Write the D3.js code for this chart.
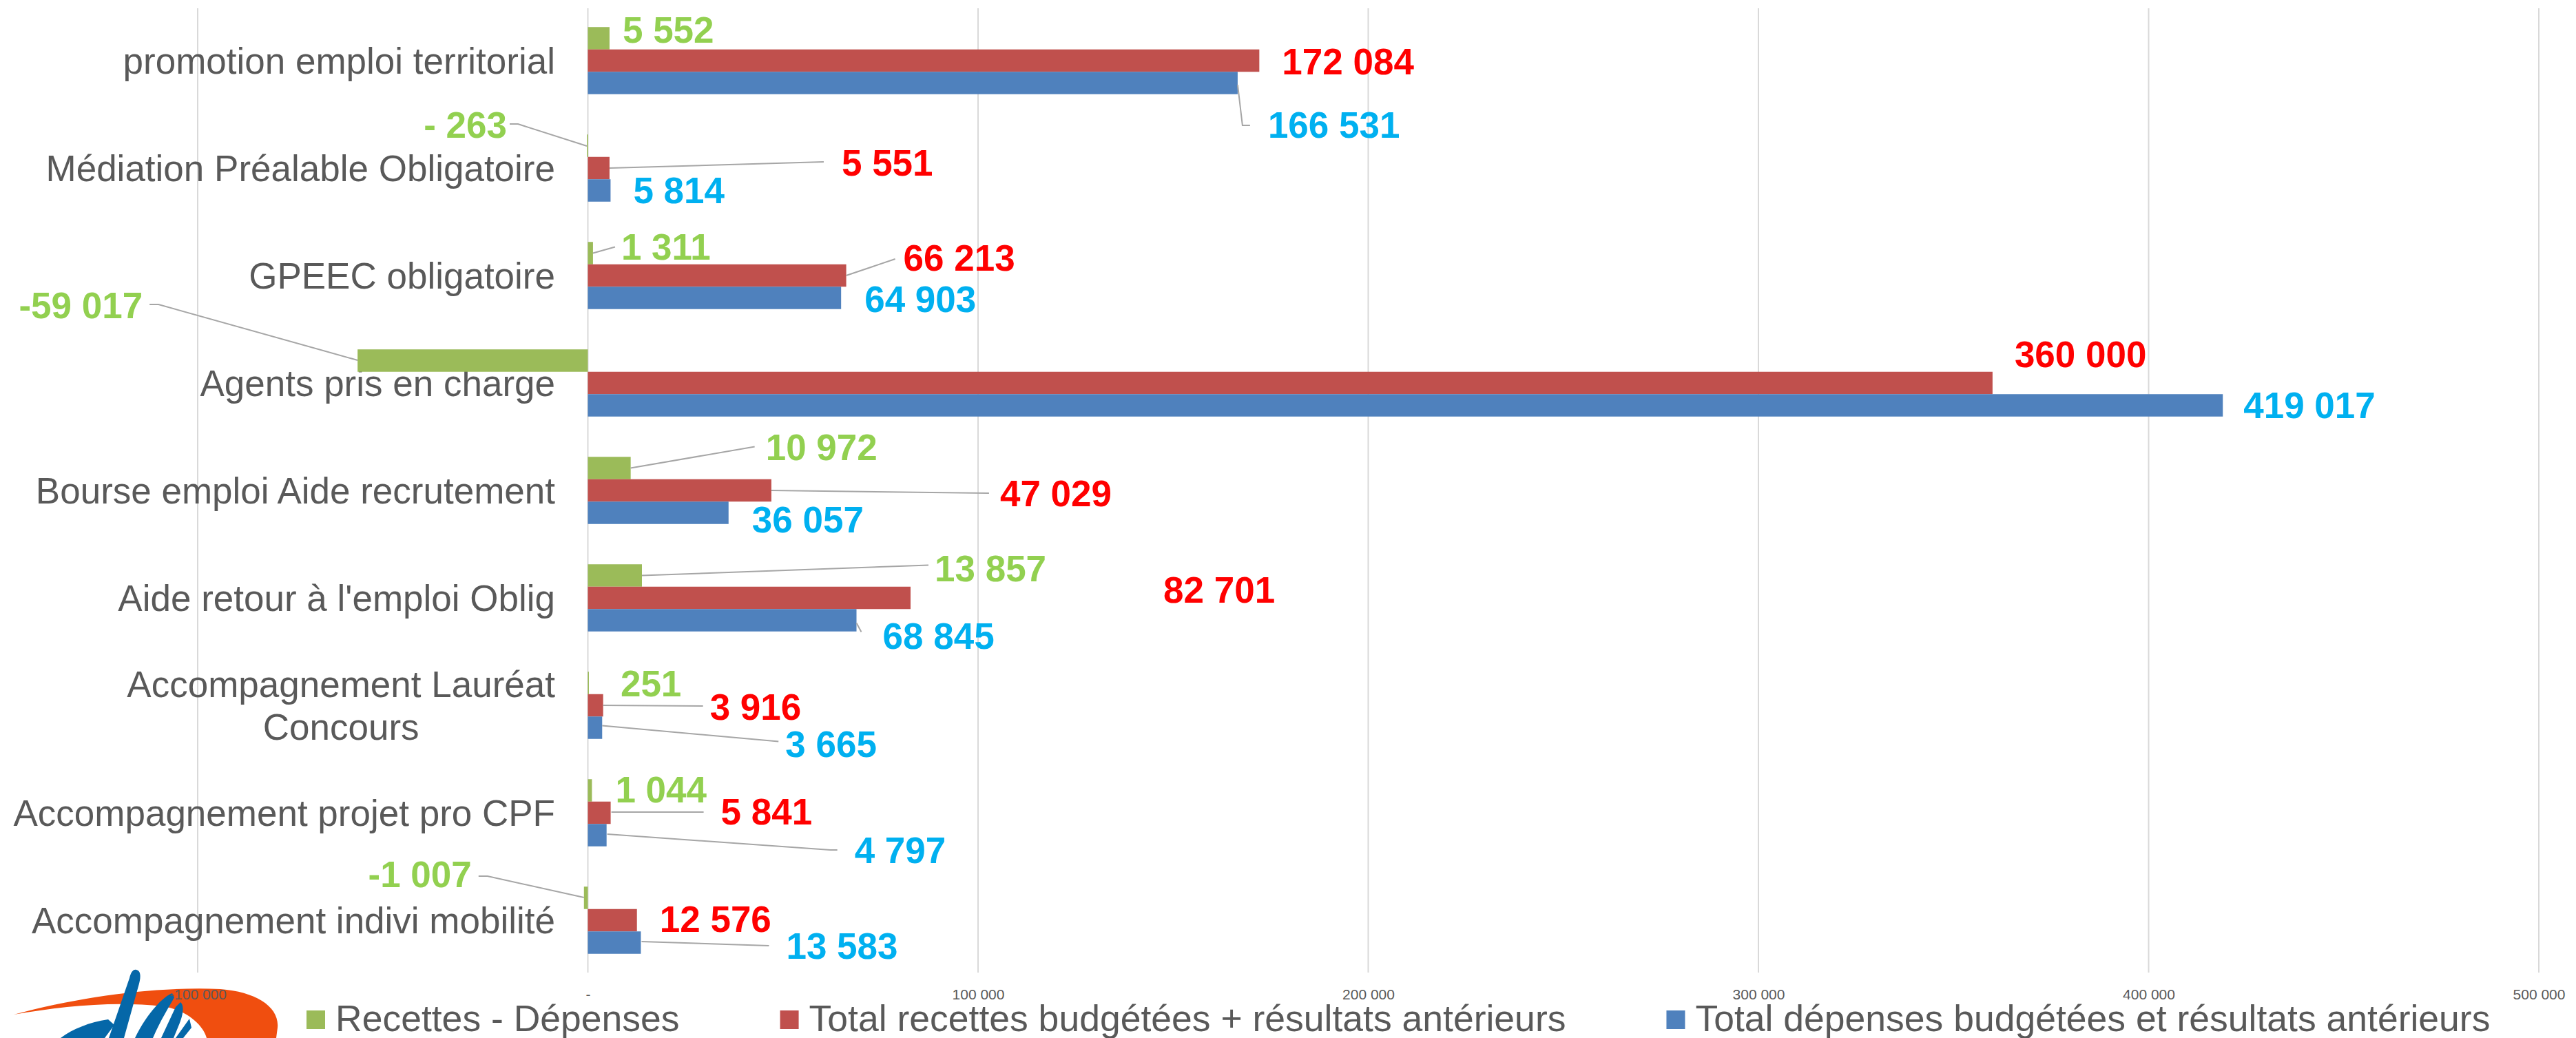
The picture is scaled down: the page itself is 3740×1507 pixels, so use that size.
<!DOCTYPE html>
<html>
<head>
<meta charset="utf-8">
<script src="https://cdn.jsdelivr.net/npm/d3@7"></script>
<style>
  body { margin: 0; background: #fff; }
  svg { display: block; font-family: "Liberation Sans", Arial, sans-serif; }
</style>
</head>
<body>
<svg id="chart"></svg>
<script>
const width = 3740,
    height = 1507;

const categories = [
    "promotion emploi territorial",
    "Médiation Préalable Obligatoire",
    "GPEEC obligatoire",
    "Agents pris en charge",
    "Bourse emploi Aide recrutement",
    "Aide retour à l'emploi Oblig",
    "Accompagnement Lauréat\nConcours",
    "Accompagnement projet pro CPF",
    "Accompagnement indivi mobilité"
];

const seriesNames = [
    "Recettes - Dépenses",
    "Total recettes budgétées + résultats antérieurs",
    "Total dépenses budgétées et résultats antérieurs"
];

const recettesMoinsDepenses = [5552, -263, 1311, -59017, 10972, 13857, 251, 1044, -1007];
const totalRecettes = [172084, 5551, 66213, 360000, 47029, 82701, 3916, 5841, 12576];
const totalDepenses = [166531, 5814, 64903, 419017, 36057, 68845, 3665, 4797, 13583];

const tickValues = [-100000, 0, 100000, 200000, 300000, 400000, 500000];
const tickLabels = ["-100 000", "-", "100 000", "200 000", "300 000", "400 000", "500 000"];

const barColors = ["#9BBB59", "#C0504D", "#4F81BD"];
const labelColors = ["#92D050", "#FF0000", "#00B0F0"];

// data labels were moved by hand in the original: offsets from bar end / bar centre
// [dx, dy(baseline), anchor, leader points]
const labelLayout = [
    [
        [19, 6.5],
        [-116, -11.5, "end", [[-112, -31.5], [-100, -31.5], [0, 0.5]]],
        [41, 9.5, "start", [[0, 0], [32, -9]]],
        [-312, -61.5, "end", [[-302, -81.5], [-289, -81.5], [0, -0.5]]],
        [196, -11.5, "start", [[0, 0], [180, -31]]],
        [425, 8.5, "start", [[0, 0], [416, -15]]],
        [46, 19.5],
        [34, 17.5],
        [-163, -15.5, "end", [[-153, -31.5], [-140, -31.5], [0, -0.5]]]
    ],
    [
        [33, 20],
        [337, 11, "start", [[0, 0], [311, -9]]],
        [83, -7, "start", [[0, 0], [71, -24]]],
        [32, -23],
        [332, 23, "start", [[0, 0], [316, 4]]],
        [367, 7],
        [155, 21, "start", [[0, 0], [145, 1]]],
        [160, 17, "start", [[1, -1], [135, -1]]],
        [33, 17]
    ],
    [
        [44, 79.5, "start", [[0, 2.5], [7, 61.5], [18, 61.5]]],
        [33, 18.5],
        [34, 20.5],
        [30, 18.5],
        [34, 28.5],
        [38, 41.5, "start", [[0, 4], [7, 17]]],
        [266, 42.5, "start", [[0, -3], [256, 20]]],
        [360, 40.5, "start", [[1, -1.5], [325, 21.5], [335, 21.5]]],
        [211, 23.5, "start", [[1, -1.5], [186, 4.5]]]
    ]
];

const svg = d3.select("#chart").attr("width", width).attr("height", height);
svg.append("rect").attr("width", width).attr("height", height).attr("fill", "#fff");

// logo (bottom left, partly cut off)
const logo = svg.append("g").attr("class", "logo");
logo.append("path")
    .attr("d", "M20,1473 C120,1446 230,1432 320,1436 C372,1440 406,1462 403,1492 L401,1507 L300,1507 C296,1490 272,1466 236,1461 C165,1453 90,1461 20,1473 Z")
    .attr("fill", "#F04E0F");
[
    "M198,1408 C204,1409 205,1417 202,1428 L180,1507 L158,1507 L188,1420 C190,1412 193,1407 198,1408 Z",
    "M88,1507 C105,1494 130,1484 157,1480 L166,1488 L152,1507 Z",
    "M250,1442 C238,1446 214,1470 196,1507 L222,1507 C233,1481 246,1461 253,1448 Z",
    "M262,1455 C268,1460 266,1474 259,1490 L252,1507 L234,1507 L255,1462 Z",
    "M275,1479 L278,1492 L266,1507 L255,1507 Z"
].forEach(d => logo.append("path").attr("d", d).attr("fill", "#0567A8"));

const plotTop = 10,
    plotBottom = 1414;

const x = d3.scaleLinear().domain([-100000, 500000]).range([287, 3686]);

const y = d3.scaleBand().domain(d3.range(categories.length)).range([plotTop, plotBottom]);

const y1 = d3
    .scaleBand()
    .domain(d3.range(3))
    .range([0, y.bandwidth()])
    .paddingOuter(0.9);

// gridlines
svg.append("g")
    .selectAll("line")
    .data(tickValues)
    .enter()
    .append("line")
    .attr("x1", d => x(d))
    .attr("x2", d => x(d))
    .attr("y1", plotTop + 2)
    .attr("y2", plotBottom - 2)
    .attr("stroke", "#D9D9D9")
    .attr("stroke-width", 2);

// tick labels
const xAxis = d3
    .axisBottom(x)
    .tickValues(tickValues)
    .tickSize(0)
    .tickFormat((d, i) => tickLabels[i]);

const axisG = svg.append("g")
    .attr("transform", "translate(0,1436)")
    .call(xAxis);
axisG.select(".domain").remove();
axisG.selectAll("text")
    .attr("y", 0)
    .attr("dy", "0.71em")
    .attr("fill", "#595959")
    .style("font-size", "21px")
    .style("font-family", "'Liberation Sans', Arial, sans-serif");

// category labels
const catG = svg.append("g");
categories.forEach((c, i) => {
    const lines = c.split("\n");
    const lh = 62;
    const cy = y(i) + y.bandwidth() / 2;
    const t = catG.append("text")
        .attr("fill", "#595959")
        .style("font-size", "53px");
    if (lines.length === 1) {
        t.attr("x", 806).attr("y", cy + 19).attr("text-anchor", "end").text(c);
    } else {
        // centred block, right edge at 806
        const tmp = catG.append("text").style("font-size", "53px").text(lines[0]);
        const w = tmp.node().getComputedTextLength();
        tmp.remove();
        const mid = 806 - w / 2;
        t.attr("text-anchor", "middle");
        lines.forEach((l, k) => {
            t.append("tspan")
                .attr("x", mid)
                .attr("y", cy + 19 + (k - (lines.length - 1) / 2) * lh)
                .text(l);
        });
    }
});

const seriesValues = [recettesMoinsDepenses, totalRecettes, totalDepenses];

// bars
seriesValues.forEach((vals, s) => {
    svg.append("g")
        .selectAll("rect")
        .data(vals)
        .enter()
        .append("rect")
        .attr("x", d => x(Math.min(0, d)))
        .attr("width", d => Math.max(1.5, Math.abs(x(d) - x(0))))
        .attr("y", (d, i) => y(i) + y1(s))
        .attr("height", y1.bandwidth())
        .attr("fill", barColors[s]);
});

function fmt(v) {
    const a = Math.abs(v);
    let s = d3.format(",")(a).replace(/,/g, " ");
    if (v < 0) return a < 1000 ? "- " + s : "-" + s;
    return s;
}

// data labels + leader lines
const lineGen = d3.line();
seriesValues.forEach((vals, s) => {
    const g = svg.append("g");
    vals.forEach((v, i) => {
        const L = labelLayout[s][i];
        const bx = x(v);
        const by = y(i) + y1(s) + y1.bandwidth() / 2;
        if (L[3]) {
            g.append("path")
                .attr("d", lineGen(L[3].map(p => [bx + p[0], by + p[1]])))
                .attr("fill", "none")
                .attr("stroke", "#A6A6A6")
                .attr("stroke-width", 2);
        }
        g.append("text")
            .attr("x", bx + L[0])
            .attr("y", by + L[1])
            .attr("text-anchor", L[2] || "start")
            .attr("fill", labelColors[s])
            .style("font-size", "53px")
            .style("font-weight", "bold")
            .text(fmt(v));
    });
});

// legend
const legend = svg.append("g").attr("transform", "translate(445,0)");
let lx = 0;
seriesNames.forEach((name, s) => {
    legend.append("rect")
        .attr("x", lx)
        .attr("y", 1467)
        .attr("width", 27)
        .attr("height", 27)
        .attr("fill", barColors[s]);
    const t = legend.append("text")
        .attr("x", lx + 42)
        .attr("y", 1497)
        .attr("fill", "#595959")
        .style("font-size", "53.5px")
        .text(name);
    lx += 42 + t.node().getComputedTextLength() + 146;
});
</script>
</body>
</html>
